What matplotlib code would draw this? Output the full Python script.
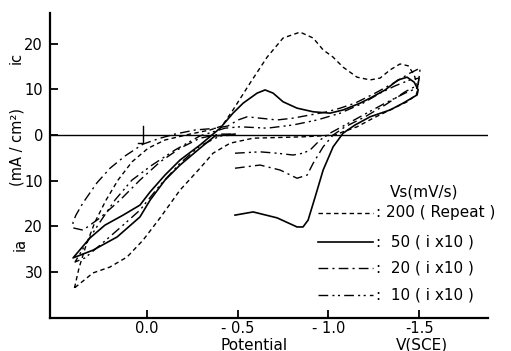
import matplotlib
matplotlib.use("Agg")
import matplotlib.pyplot as plt
import numpy as np
from matplotlib.lines import Line2D

# ---- data (potential in V vs SCE, current in mA/cm^2; + = cathodic ic, - = anodic ia)
E_200 = [0.40, 0.375, 0.336, 0.287, 0.226, 0.16, 0.083, -0.006, -0.099, -0.237, -0.347, -0.414,
         -0.474, -0.568, -0.662, -0.75, -0.844, -0.916, -0.971, -1.026, -1.081, -1.158, -1.23,
         -1.285, -1.34, -1.395, -1.44, -1.473, -1.495,
         -1.484, -1.434, -1.34, -1.247, -1.158, -1.081, -1.037, -0.954, -0.86, -0.585, -0.458,
         -0.364, -0.292, -0.182, -0.072, 0.022, 0.11, 0.204, 0.298, 0.40]
i_200 = [-33.6, -29.2, -24.2, -19.1, -14.3, -9.9, -5.9, -2.9, -1.1, 0.2, 1.1, 2.0,
         5.5, 11.4, 17.1, 21.3, 22.6, 21.3, 18.7, 17.1, 14.9, 12.7, 12.1,
         12.5, 14.3, 15.6, 15.2, 13.2, 10.3,
         8.8, 7.3, 5.5, 3.7, 1.8, 0.7, 0.0, -0.2, -0.4, -0.7, -1.8,
         -4.0, -7.3, -12.1, -18.2, -23.1, -26.8, -29.0, -30.3, -33.6]

E_50 = [-0.485, -0.585, -0.717, -0.827, -0.86, -0.888, -0.927, -0.971, -1.026, -1.081, -1.147,
        -1.23, -1.34, -1.412, -1.489, -1.495, -1.473, -1.434, -1.384, -1.313, -1.23, -1.175,
        -1.081, -1.009, -0.916, -0.827, -0.75, -0.695, -0.651, -0.607, -0.53, -0.474, -0.403,
        -0.292, -0.182, -0.099, -0.017, 0.039, 0.132, 0.232, 0.314, 0.408, 0.298, 0.165,
        0.039, -0.017, -0.099, -0.182, -0.292, -0.375, -0.485]
i_50 = [-17.6, -16.9, -18.2, -20.2, -20.2, -18.7, -13.6, -7.7, -2.6, 0.4, 2.2,
        4.0, 5.5, 7.0, 8.8, 9.9, 11.6, 12.7, 12.1, 9.9, 8.1, 7.0,
        5.5, 4.8, 5.1, 5.9, 7.3, 9.2, 9.9, 9.2, 7.0, 4.8, 1.5,
        -2.2, -5.5, -8.8, -12.5, -15.4, -17.6, -19.8, -22.6, -27.0, -25.3, -22.4,
        -18.0, -14.3, -9.9, -6.6, -2.9, -0.2, 0.2]

E_20 = [-0.485, -0.623, -0.734, -0.827, -0.883, -0.916, -0.971, -1.026, -1.092, -1.202, -1.313,
        -1.423, -1.495, -1.506, -1.45, -1.368, -1.258, -1.147, -1.065, -0.993, -0.899, -0.805,
        -0.717, -0.623, -0.552, -0.502, -0.447, -0.386, -0.265, -0.154, -0.072, 0.022, 0.121,
        0.204, 0.276, 0.353, 0.392, 0.408, 0.408, 0.353, 0.259, 0.149, 0.039, -0.072, -0.182,
        -0.292, -0.403, -0.485]
i_20 = [-7.3, -6.6, -7.7, -9.5, -8.8, -6.2, -2.6, 0.0, 1.8, 4.0, 6.6,
        9.5, 11.0, 14.7, 13.6, 11.6, 9.2, 7.0, 5.9, 5.1, 4.4, 3.7,
        3.3, 3.7, 4.0, 3.3, 2.0, 1.5, 1.1, 0.2, -0.7, -2.0, -4.6,
        -7.3, -10.5, -14.9, -17.6, -19.1, -20.4, -20.9, -18.2, -14.3, -9.9, -5.9, -2.9,
        -0.7, 0.2, 0.2]

E_10 = [-0.485, -0.623, -0.717, -0.805, -0.86, -0.899, -0.954, -1.009, -1.092, -1.202, -1.313,
        -1.423, -1.489, -1.5, -1.45, -1.368, -1.285, -1.191, -1.065, -0.938, -0.805, -0.662,
        -0.513, -0.43, -0.292, -0.154, -0.028, 0.083, 0.177, 0.259, 0.325, 0.397, 0.342,
        0.259, 0.149, 0.039, -0.072, -0.182, -0.292, -0.403, -0.485]
i_10 = [-4.0, -3.7, -4.0, -4.4, -4.0, -3.3, -1.1, 0.4, 2.2, 4.6, 7.0,
        9.2, 10.3, 12.5, 12.1, 10.8, 9.2, 7.0, 4.8, 3.3, 2.2, 1.5,
        1.8, 1.5, -0.2, -3.3, -6.6, -9.9, -14.3, -19.1, -23.1, -27.9, -27.0,
        -24.2, -20.4, -16.5, -11.0, -6.2, -2.4, -0.2, 0.0]

start_E = [0.05, 0.022, 0.022]
start_i = [-1.8, -1.8, 2.0]

yticks = [20, 10, 0, -10, -20, -30]
ytick_labels = ["20", "10", "0", "10", "20", "30"]
xticks = [0.0, -0.5, -1.0, -1.5]
xtick_labels = ["0.0", "- 0.5", "- 1.0", "-1.5"]

legend_rates = [": 200 ( Repeat )", ":  50 ( i x10 )", ":  20 ( i x10 )", ":  10 ( i x10 )"]

W, H = 511, 351
fig = plt.figure(figsize=(W / 100, H / 100), dpi=100)
ax = fig.add_axes([50 / W, 33 / H, 438 / W, 305 / H])

lw = 1.0
styles = [
    dict(color="black", lw=lw, dashes=(3.2, 2.4)),
    dict(color="black", lw=lw + 0.2, linestyle="-"),
    dict(color="black", lw=lw, dashes=(7, 3, 1.5, 3)),
    dict(color="black", lw=lw, dashes=(7, 3, 1.5, 2.5, 1.5, 3)),
]
series = [(E_200, i_200), (E_50, i_50), (E_20, i_20), (E_10, i_10)]
for (e, c), st in zip(series, styles):
    ax.plot(e, c, **st)

ax.axhline(0, color="black", lw=1.0)
ax.plot(start_E, start_i, color="black", lw=1.0)

ax.set_xlim(0.535, -1.88)
ax.set_ylim(-40.2, 26.8)

for s in ["top", "right"]:
    ax.spines[s].set_visible(False)
ax.spines["left"].set_linewidth(1.6)
ax.spines["bottom"].set_linewidth(1.6)

ax.set_yticks(yticks)
ax.set_yticklabels(ytick_labels)
ax.set_xticks(xticks)
ax.set_xticklabels(xtick_labels)
ax.tick_params(axis="both", direction="in", length=6, width=1.3, labelsize=10.5)
ax.tick_params(axis="x", pad=2.5)
ax.tick_params(axis="y", pad=5)

fs = 10.5
def fx(px):
    return px / W
def fy(py):
    return 1 - py / H

fig.text(fx(16), fy(58), "ic", rotation=90, ha="center", va="center", fontsize=fs)
fig.text(fx(17), fy(147), "(mA / cm²)", rotation=90, ha="center", va="center", fontsize=fs)
fig.text(fx(20), fy(244), "ia", rotation=90, ha="center", va="center", fontsize=fs)
fig.text(fx(254), fy(345), "Potential", ha="center", va="center", fontsize=11)
fig.text(fx(422), fy(345), "V(SCE)", ha="center", va="center", fontsize=11)

fig.text(fx(390), fy(192), "Vs(mV/s)", ha="left", va="center", fontsize=11)
rows_y = [213, 242, 268, 295]
for txt, ry, st in zip(legend_rates, rows_y, styles):
    kw = {k: v for k, v in st.items()}
    fig.add_artist(Line2D([fx(318), fx(373)], [fy(ry), fy(ry)], transform=fig.transFigure, **kw))
    fig.text(fx(376), fy(ry), txt, ha="left", va="center", fontsize=11)

fig.savefig("out.png", dpi=100)
